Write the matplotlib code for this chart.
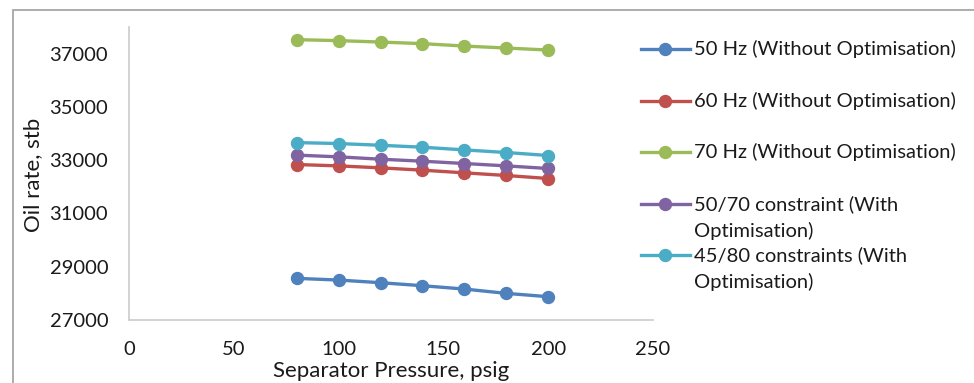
import numpy as np
import matplotlib
matplotlib.use('Agg')
import matplotlib.pyplot as plt
from matplotlib.lines import Line2D
from matplotlib.patches import Rectangle

plt.rcParams['font.family'] = ['Lato', 'DejaVu Sans']

# data
pressure = [80, 100, 120, 140, 160, 180, 200]
hz50 = [28563, 28500, 28400, 28287, 28162, 28000, 27875]
hz60 = [32837, 32786, 32712, 32625, 32525, 32425, 32312]
hz70 = [37525, 37488, 37435, 37375, 37285, 37210, 37135]
c5070 = [33190, 33125, 33037, 32962, 32875, 32786, 32688]
c4580 = [33660, 33625, 33560, 33487, 33386, 33288, 33175]

labels = ['50 Hz (Without Optimisation)',
          '60 Hz (Without Optimisation)',
          '70 Hz (Without Optimisation)',
          '50/70 constraint (With\nOptimisation)',
          '45/80 constraints (With\nOptimisation)']
colors = ['#4F81BD', '#C0504D', '#9BBB59', '#8064A2', '#4BACC6']
series = [hz50, hz60, hz70, c5070, c4580]

W, H = 974, 383
fig = plt.figure(figsize=(W/100, H/100), dpi=100)
ax = fig.add_axes([129/W, 1-320/H, (653-129)/W, (320-27)/H])

for y, c in zip(series, colors):
    ax.plot(pressure, y, color=c, lw=2.4, marker='o', ms=8.6, clip_on=False)

ax.set_xlim(0, 250)
ax.set_ylim(27000, 38000)
ax.set_xticks(np.arange(0, 251, 50))
ax.set_yticks(np.arange(27000, 37001, 2000))
ax.tick_params(length=0, labelsize=14.5, colors='#1a1a1a', pad=15)
for s in ['top', 'right']:
    ax.spines[s].set_visible(False)
for s in ['left', 'bottom']:
    ax.spines[s].set_color('#d0d0d0')
    ax.spines[s].set_linewidth(1.3)

fig.text(33/W, 1-175/H, 'Oil rate, stb', rotation=90, ha='center', va='center',
         fontsize=16, color='#1a1a1a')
fig.text(391/W, 1-371/H, 'Separator Pressure, psig', ha='center', va='center',
         fontsize=16, color='#1a1a1a')

# legend drawn by hand so wrapped labels sit like the original
ly = [49, 101, 152, 204, 255]
for lab, c, yy in zip(labels, colors, ly):
    fy = 1 - yy/H
    fig.add_artist(Line2D([641/W, 690/W], [fy, fy], color=c, lw=2.4))
    fig.add_artist(Line2D([665/W], [fy], color=c, marker='o', ms=8.6))
    for i, part in enumerate(lab.split('\n')):
        fig.text(694/W, 1 - (yy + 27*i)/H, part, ha='left', va='center',
                 fontsize=14.5, color='#1a1a1a')

# outer chart frame (left and top edges visible)
fig.add_artist(Rectangle((13/W, -0.5), 2, 1.5 - 10/H, transform=fig.transFigure,
                         fill=False, ec='#a6a6a6', lw=1.3))

fig.savefig('out.png', dpi=100)
